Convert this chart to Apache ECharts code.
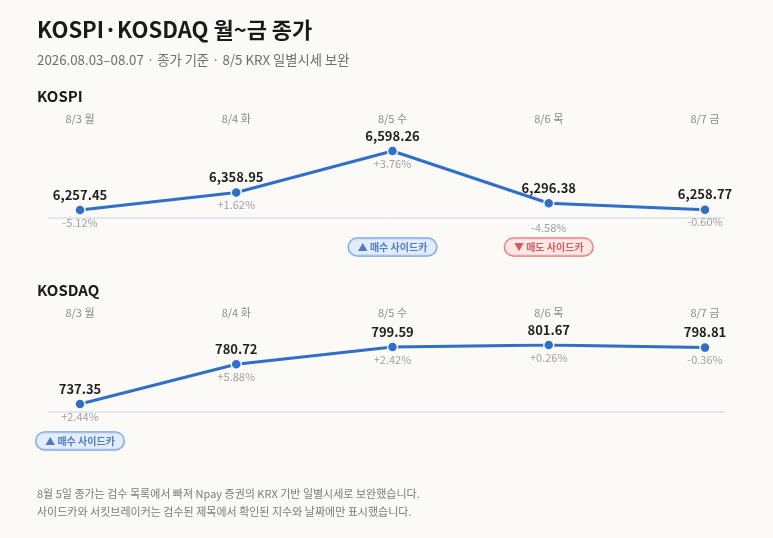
<!DOCTYPE html>
<html>
<head>
<meta charset="utf-8">
<script src="https://cdn.jsdelivr.net/npm/echarts@6/dist/echarts.min.js"></script>
<style>
  html, body { margin: 0; padding: 0; background: #fbfaf7; }
  #main { width: 773px; height: 538px; }
</style>
</head>
<body>
<div id="main"></div>
<script>
// 요일 라벨 + 종가, 전일 대비 등락률
var days = ['8/3 월', '8/4 화', '8/5 수', '8/6 목', '8/7 금'];
var kospiClose = [6257.45, 6358.95, 6598.26, 6296.38, 6258.77];
var kospiChange = [-5.12, 1.62, 3.76, -4.58, -0.60];
var kosdaqClose = [737.35, 780.72, 799.59, 801.67, 798.81];
var kosdaqChange = [2.44, 5.88, 2.42, 0.26, -0.36];
// 사이드카 발동일 (buy = 매수, sell = 매도)
var kospiSidecar = ['', '', 'buy', 'sell', ''];
var kosdaqSidecar = ['buy', '', '', '', ''];

var FONT = '"Noto Sans CJK KR", "Noto Sans", sans-serif';
var BLUE = '#2f6fc8';
var BG = '#fbfaf7';

function fmtNum(v) {
    return v.toLocaleString('en-US', { minimumFractionDigits: 2, maximumFractionDigits: 2 });
}
function fmtPct(v) {
    return (v > 0 ? '+' : '') + v.toFixed(2) + '%';
}
// 최저점 아래 여백을 조금 둔 축 하한
function lowerBound(arr) {
    var lo = Math.min.apply(null, arr), hi = Math.max.apply(null, arr);
    return lo - (hi - lo) * 8 / 59;
}

var badgeStyle = {
    buy: { text: '▲ 매수 사이드카', color: '#2b5fb3', bg: '#dde9fb', border: '#5d8fdb' },
    sell: { text: '▼ 매도 사이드카', color: '#c93a3a', bg: '#fce4e2', border: '#dc5a5a' }
};

function buildSeries(idx, closes, changes, sidecars) {
    var lo = lowerBound(closes);
    var out = [];
    out.push({
        type: 'line',
        xAxisIndex: idx, yAxisIndex: idx,
        data: closes,
        symbol: 'circle',
        symbolSize: 10,
        lineStyle: { color: BLUE, width: 3 },
        itemStyle: { color: BLUE, borderColor: BG, borderWidth: 1.5 },
        label: {
            show: true, position: 'top', distance: 3,
            fontFamily: FONT, fontSize: 13, fontWeight: 'bold', color: '#1f1f1f',
            formatter: function(p) { return fmtNum(p.value); }
        },
        z: 3
    });
    out.push({
        type: 'scatter',
        xAxisIndex: idx, yAxisIndex: idx,
        data: closes.map(function(v, i) {
            var d = { value: v };
            // 8/6 코스피 등락률은 기준선 아래로 내림
            if (idx === 0 && i === 3) d.label = { offset: [0, 12] };
            return d;
        }),
        symbolSize: 10,
        itemStyle: { color: 'rgba(0,0,0,0)' },
        label: {
            show: true, position: 'bottom', distance: 2,
            fontFamily: FONT, fontSize: 11, color: '#8a8a8a',
            formatter: function(p) { return fmtPct(changes[p.dataIndex]); }
        },
        silent: true,
        z: 2
    });
    var badges = [];
    sidecars.forEach(function(s, i) {
        if (!s) return;
        var b = badgeStyle[s];
        badges.push({
            value: [i, lo],
            label: {
                formatter: b.text, color: b.color,
                backgroundColor: b.bg, borderColor: b.border
            }
        });
    });
    out.push({
        type: 'scatter',
        xAxisIndex: idx, yAxisIndex: idx,
        data: badges,
        symbolSize: 0,
        label: {
            show: true, position: 'inside', offset: [0, 29],
            fontFamily: FONT, fontSize: 10, fontWeight: 'bold',
            borderWidth: 1.2, borderRadius: 10, padding: [4, 9, 3, 9]
        },
        silent: true,
        z: 4
    });
    return out;
}

function xAxisFor(idx) {
    return {
        type: 'category', gridIndex: idx, data: days, boundaryGap: false,
        position: 'top',
        axisLine: { show: false }, axisTick: { show: false }, splitLine: { show: false },
        axisLabel: { color: '#8a8a8a', fontFamily: FONT, fontSize: 11, margin: 27 }
    };
}
function yAxisFor(idx, closes) {
    return {
        type: 'value', gridIndex: idx, show: false, scale: true,
        min: lowerBound(closes), max: Math.max.apply(null, closes),
        splitLine: { show: false }
    };
}

var chart = echarts.init(document.getElementById('main'));

var option = {
    backgroundColor: BG,
    animation: false,
    textStyle: { fontFamily: FONT },
    title: [
        { text: 'KOSPI·KOSDAQ 월~금 종가', left: 32, top: 14,
          textStyle: { fontFamily: FONT, fontSize: 22, fontWeight: 'bold', color: '#1a1a1a' } },
        { text: '2026.08.03–08.07 · 종가 기준 · 8/5 KRX 일별시세 보완', left: 32, top: 48,
          textStyle: { fontFamily: FONT, fontSize: 13.3, fontWeight: 'normal', color: '#6e6e6e' } },
        { text: 'KOSPI', left: 32, top: 84,
          textStyle: { fontFamily: FONT, fontSize: 15, fontWeight: 'bold', color: '#1a1a1a' } },
        { text: 'KOSDAQ', left: 32, top: 278,
          textStyle: { fontFamily: FONT, fontSize: 15, fontWeight: 'bold', color: '#1a1a1a' } },
        { text: '8월 5일 종가는 검수 목록에서 빠져 Npay 증권의 KRX 기반 일별시세로 보완했습니다.', left: 32, top: 483,
          textStyle: { fontFamily: FONT, fontSize: 11, fontWeight: 'normal', color: '#7a7a7a' } },
        { text: '사이드카와 서킷브레이커는 검수된 제목에서 확인된 지수와 날짜에만 표시했습니다.', left: 32, top: 501,
          textStyle: { fontFamily: FONT, fontSize: 11, fontWeight: 'normal', color: '#7a7a7a' } }
    ],
    grid: [
        { left: 80, right: 68, top: 151, height: 67 },
        { left: 80, right: 68, top: 345, height: 67 }
    ],
    xAxis: [xAxisFor(0), xAxisFor(1)],
    yAxis: [yAxisFor(0, kospiClose), yAxisFor(1, kosdaqClose)],
    graphic: [
        { type: 'line', shape: { x1: 48, y1: 218, x2: 725, y2: 218 },
          style: { stroke: '#cbd2e2', lineWidth: 1 }, z: 1 },
        { type: 'line', shape: { x1: 48, y1: 412, x2: 725, y2: 412 },
          style: { stroke: '#e3e6ed', lineWidth: 2 }, z: 1 }
    ],
    series: buildSeries(0, kospiClose, kospiChange, kospiSidecar)
        .concat(buildSeries(1, kosdaqClose, kosdaqChange, kosdaqSidecar))
};

chart.setOption(option);
</script>
</body>
</html>
